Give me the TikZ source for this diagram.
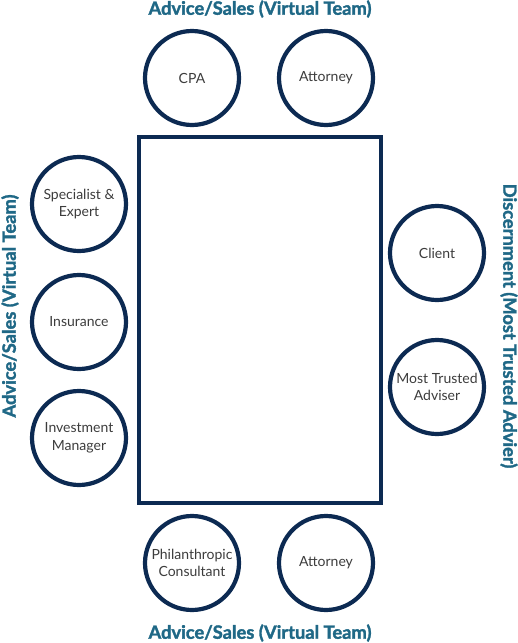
\documentclass[tikz,border=0pt]{standalone}
\usepackage{fontspec}
\setmainfont{Lato}
\newfontfamily\heavyfont{Lato}[BoldFeatures={FakeBold=1.8}]
\definecolor{navy}{RGB}{12,42,82}
\definecolor{teal}{RGB}{31,104,134}
\definecolor{txt}{RGB}{60,60,60}
\tikzset{
    seat/.style={circle, draw=navy, line width=4.2pt, minimum size=94pt, inner sep=0pt,
                 align=center, text=txt, font=\fontsize{14}{17.5}\selectfont},
    team/.style={text=teal, font=\fontsize{18.3}{20}\heavyfont\bfseries}
}
\begin{document}
\begin{tikzpicture}[x=1pt,y=-1pt]
            \useasboundingbox (0,0) rectangle (518,643);
            % table
            \draw [navy, line width=4.2pt] (139,137) rectangle (381,503);
            % top row
            \node [seat] (cpa) at (192,78) {CPA};
            \node [seat] (attorneytop) at (326,78) {Attorney};
            % left side
            \node [seat] (specialist) at (79,204) {Specialist \&\\Expert};
            \node [seat] (insurance) at (79,322) {Insurance};
            \node [seat] (investment) at (79,438) {Investment\\Manager};
            % right side
            \node [seat] (client) at (437,253) {Client};
            \node [seat] (adviser) at (437,387) {Most Trusted\\Adviser};
            % bottom row
            \node [seat] (philanthropic) at (192,563) {Philanthropic\\Consultant};
            \node [seat] (attorneybottom) at (326,563) {Attorney};
            % team labels
            \node [team] (teamtop) at (260,9) {Advice/Sales (Virtual Team)};
            \node [team] (teambottom) at (260,633) {Advice/Sales (Virtual Team)};
            \node [team, rotate=90] (teamleft) at (10,306) {Advice/Sales (Virtual Team)};
            \node [team, rotate=-90] (teamright) at (509,326) {Discernment (Most Trusted Advier)};
        \end{tikzpicture}
\end{document}
